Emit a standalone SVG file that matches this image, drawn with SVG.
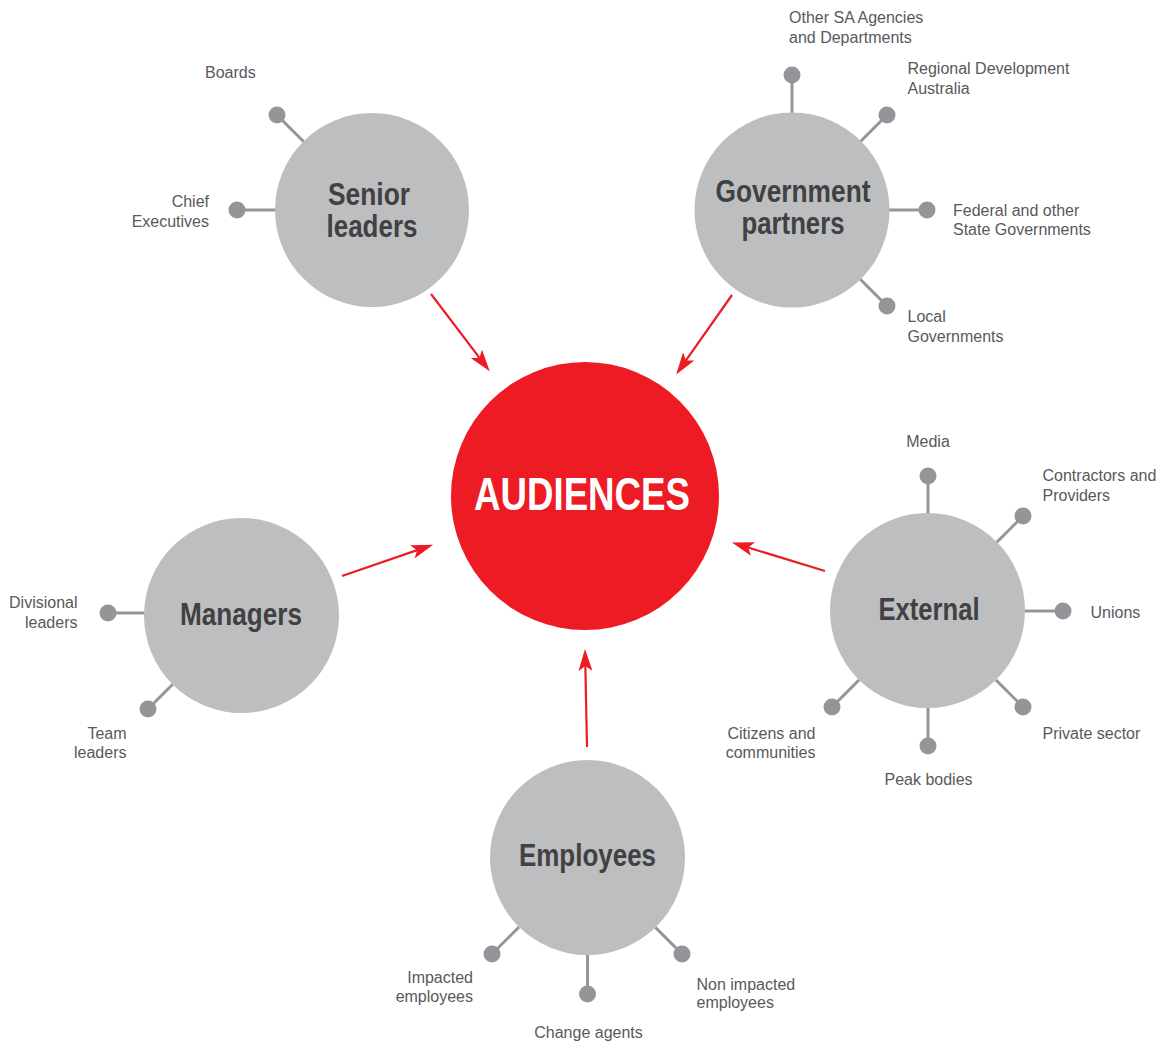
<svg xmlns="http://www.w3.org/2000/svg" width="1161" height="1041" viewBox="0 0 1161 1041">
  <defs>
    <style>
      .hub { fill: #bcbec0; }
      .core { fill: #ed1c24; }
      .spoke { stroke: #939598; stroke-width: 3; fill: none; }
      .dot { fill: #939598; }
      .title { font-family: "Liberation Sans", Arial, sans-serif; font-weight: bold; font-size: 31px; fill: #414042; text-anchor: middle; }
      .core-title { font-family: "Liberation Sans", Arial, sans-serif; font-weight: bold; font-size: 46px; fill: #ffffff; text-anchor: middle; }
      .label { font-family: "Liberation Sans", Arial, sans-serif; font-size: 16px; fill: #58595b; }
      .end { text-anchor: end; }
      .mid { text-anchor: middle; }
      .arrow { stroke: #ed1c24; stroke-width: 2.2; fill: none; marker-end: url(#head); }
    </style>
    <marker id="head" markerUnits="userSpaceOnUse" viewBox="0 0 22 14" refX="12" refY="7" markerWidth="22" markerHeight="14" orient="auto">
      <path d="M0,0 L22,7 L0,14 L5,7 z" fill="#ed1c24"/>
    </marker>
  </defs>

  <rect width="1161" height="1041" fill="#ffffff"/>

  <!-- connectors: red arrows into the central circle -->
  <g id="connectors">
    <line class="arrow" x1="431" y1="294" x2="483.7" y2="363.4"/>
    <line class="arrow" x1="732" y1="295" x2="681.9" y2="366.2"/>
    <line class="arrow" x1="342" y1="576" x2="423.7" y2="547.9"/>
    <line class="arrow" x1="825" y1="571" x2="741.5" y2="545.5"/>
    <line class="arrow" x1="587" y1="747" x2="585.2" y2="659"/>
  </g>

  <!-- central node -->
  <g id="audiences">
    <circle class="core" cx="585" cy="496" r="134"/>
    <text class="core-title" x="582" y="510" textLength="216" lengthAdjust="spacingAndGlyphs">AUDIENCES</text>
  </g>

  <!-- Senior leaders -->
  <g id="senior-leaders">
    <line class="spoke" x1="277" y1="115" x2="304" y2="142"/>
    <line class="spoke" x1="237" y1="210" x2="276" y2="210"/>
    <circle class="dot" cx="277" cy="115" r="8.5"/>
    <circle class="dot" cx="237" cy="210" r="8.5"/>
    <circle class="hub" cx="372" cy="210" r="97"/>
    <text class="title" x="369" y="205" textLength="82" lengthAdjust="spacingAndGlyphs">Senior</text>
    <text class="title" x="372" y="237" textLength="91" lengthAdjust="spacingAndGlyphs">leaders</text>
    <text class="label" x="205" y="78">Boards</text>
    <text class="label end" x="209" y="207">Chief</text>
    <text class="label end" x="209" y="227">Executives</text>
  </g>

  <!-- Government partners -->
  <g id="government-partners">
    <line class="spoke" x1="792" y1="75" x2="792" y2="114"/>
    <line class="spoke" x1="887" y1="115" x2="860" y2="142"/>
    <line class="spoke" x1="927" y1="210" x2="888" y2="210"/>
    <line class="spoke" x1="887" y1="306" x2="860" y2="279"/>
    <circle class="dot" cx="792" cy="75" r="8.5"/>
    <circle class="dot" cx="887" cy="115" r="8.5"/>
    <circle class="dot" cx="927" cy="210" r="8.5"/>
    <circle class="dot" cx="887" cy="306" r="8.5"/>
    <circle class="hub" cx="792" cy="210" r="97.5"/>
    <text class="title" x="793" y="202" textLength="155" lengthAdjust="spacingAndGlyphs">Government</text>
    <text class="title" x="793" y="234" textLength="103" lengthAdjust="spacingAndGlyphs">partners</text>
    <text class="label" x="789" y="23">Other SA Agencies</text>
    <text class="label" x="789" y="43">and Departments</text>
    <text class="label" x="907.5" y="74">Regional Development</text>
    <text class="label" x="907.5" y="94">Australia</text>
    <text class="label" x="953" y="216">Federal and other</text>
    <text class="label" x="953" y="235">State Governments</text>
    <text class="label" x="907.5" y="322">Local</text>
    <text class="label" x="907.5" y="342">Governments</text>
  </g>

  <!-- Managers -->
  <g id="managers">
    <line class="spoke" x1="108" y1="613" x2="145" y2="613"/>
    <line class="spoke" x1="148" y1="709" x2="173" y2="684"/>
    <circle class="dot" cx="108" cy="613" r="8.5"/>
    <circle class="dot" cx="148" cy="709" r="8.5"/>
    <circle class="hub" cx="241.5" cy="615.5" r="97.5"/>
    <text class="title" x="241" y="625" textLength="122" lengthAdjust="spacingAndGlyphs">Managers</text>
    <text class="label end" x="77.5" y="608">Divisional</text>
    <text class="label end" x="77.5" y="628">leaders</text>
    <text class="label end" x="126.5" y="739">Team</text>
    <text class="label end" x="126.5" y="758">leaders</text>
  </g>

  <!-- External -->
  <g id="external">
    <line class="spoke" x1="928" y1="476" x2="928" y2="514"/>
    <line class="spoke" x1="1023" y1="516" x2="996" y2="543"/>
    <line class="spoke" x1="1063" y1="611" x2="1024" y2="611"/>
    <line class="spoke" x1="1023" y1="707" x2="996" y2="680"/>
    <line class="spoke" x1="928" y1="746" x2="928" y2="707"/>
    <line class="spoke" x1="832" y1="707" x2="859" y2="680"/>
    <circle class="dot" cx="928" cy="476" r="8.5"/>
    <circle class="dot" cx="1023" cy="516" r="8.5"/>
    <circle class="dot" cx="1063" cy="611" r="8.5"/>
    <circle class="dot" cx="1023" cy="707" r="8.5"/>
    <circle class="dot" cx="928" cy="746" r="8.5"/>
    <circle class="dot" cx="832" cy="707" r="8.5"/>
    <circle class="hub" cx="927.5" cy="610.5" r="97.5"/>
    <text class="title" x="929" y="620" textLength="101" lengthAdjust="spacingAndGlyphs">External</text>
    <text class="label mid" x="928" y="447">Media</text>
    <text class="label" x="1042.5" y="481">Contractors and</text>
    <text class="label" x="1042.5" y="501">Providers</text>
    <text class="label" x="1090.5" y="618">Unions</text>
    <text class="label" x="1042.5" y="739">Private sector</text>
    <text class="label mid" x="928.5" y="784.5">Peak bodies</text>
    <text class="label end" x="815.5" y="739">Citizens and</text>
    <text class="label end" x="815.5" y="758">communities</text>
  </g>

  <!-- Employees -->
  <g id="employees">
    <line class="spoke" x1="492" y1="954" x2="519" y2="927"/>
    <line class="spoke" x1="587.5" y1="994" x2="587.5" y2="954"/>
    <line class="spoke" x1="682" y1="954" x2="655" y2="927"/>
    <circle class="dot" cx="492" cy="954" r="8.5"/>
    <circle class="dot" cx="587.5" cy="994" r="8.5"/>
    <circle class="dot" cx="682" cy="954" r="8.5"/>
    <circle class="hub" cx="587.5" cy="857.5" r="97.5"/>
    <text class="title" x="587.5" y="866" textLength="137" lengthAdjust="spacingAndGlyphs">Employees</text>
    <text class="label end" x="473" y="983">Impacted</text>
    <text class="label end" x="473" y="1002">employees</text>
    <text class="label mid" x="588.5" y="1038">Change agents</text>
    <text class="label" x="696.5" y="990">Non impacted</text>
    <text class="label" x="696.5" y="1008">employees</text>
  </g>
</svg>
